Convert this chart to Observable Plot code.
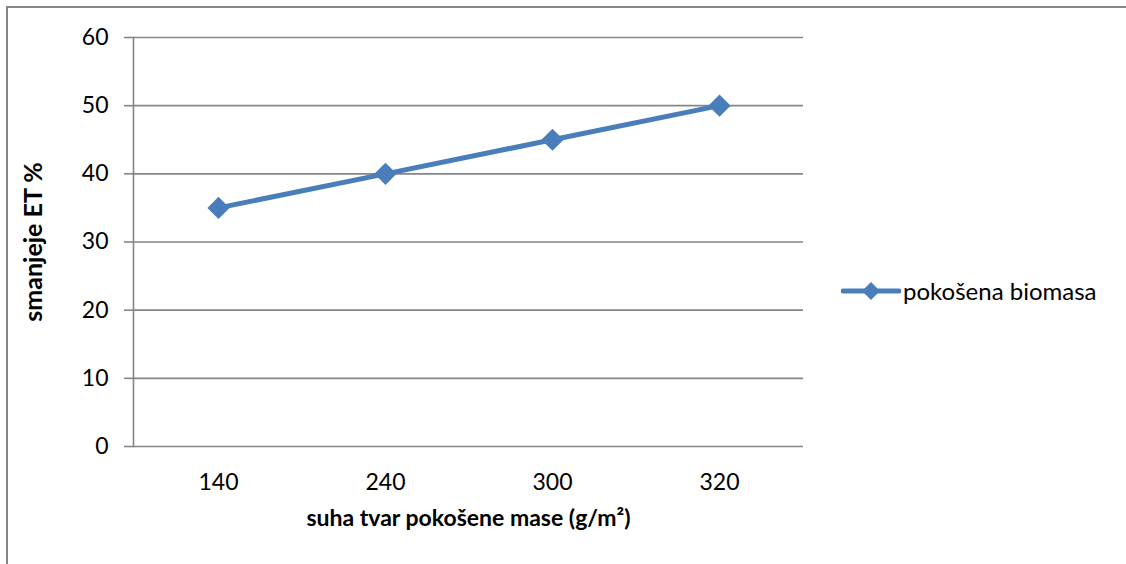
<!DOCTYPE html>
<html>
<head>
<meta charset="utf-8">
<script src="https://cdn.jsdelivr.net/npm/d3@7"></script>
<script src="https://cdn.jsdelivr.net/npm/@observablehq/plot@0.6"></script>
<style>
  html, body { margin: 0; padding: 0; background: #fff; overflow: hidden; }
  #wrap { position: relative; width: 1126px; height: 564px; font-family: Lato, "Open Sans", sans-serif; }
  #frame { position: absolute; left: 6px; top: 6px; width: 1200px; height: 700px; border-left: 2px solid #868686; border-top: 2px solid #868686; box-sizing: border-box; }
  #chart { position: absolute; left: 0; top: 0; }
  #legend { position: absolute; left: 841px; top: 276px; display: flex; align-items: center; font-size: 24px; color: #000; }
</style>
</head>
<body>
<div id="wrap">
  <div id="frame"></div>
  <div id="chart"></div>
  <div id="legend">
    <svg width="60" height="28"><line x1="2" y1="14" x2="58" y2="14" stroke="#4A7EBB" stroke-width="5" stroke-linecap="round"/><path d="M30,5 L39,14 L30,23 L21,14 Z" fill="#4A7EBB"/></svg>
    <span id="legendText" style="margin-left:2px"></span>
  </div>
</div>
<script>
const categories = ["140", "240", "300", "320"];
const values = [35, 40, 45, 50];
const yTicks = [0, 10, 20, 30, 40, 50, 60];
const seriesName = "pokošena biomasa";
const xTitle = "suha tvar pokošene mase (g/m²)";
const yTitle = "smanjeje ET %";

const data = categories.map((c, i) => ({cat: c, val: values[i]}));
document.getElementById("legendText").textContent = seriesName;

const blue = "#4A7EBB";
const grid = "#868686";
const fs = 23;

const chart = Plot.plot({
  width: 1126,
  height: 564,
  marginLeft: 133,
  marginRight: 323,
  marginTop: 37,
  marginBottom: 118,
  style: {fontFamily: "Lato, 'Open Sans', sans-serif", fontSize: fs + "px", color: "#000", background: "transparent", overflow: "visible"},
  x: {type: "point", domain: categories, padding: 0.5, label: null},
  y: {domain: [0, 60], label: null},
  marks: [
    Plot.ruleY(yTicks, {stroke: grid, strokeWidth: 1.6}),
    Plot.frame({anchor: "left", stroke: grid, strokeWidth: 1.6}),
    Plot.axisY(yTicks, {tickSize: 9, tickPadding: 16, stroke: grid, strokeWidth: 1.6, fill: "#000", fontSize: fs, label: null}),
    Plot.axisX({tickSize: 0, tickPadding: 27, fill: "#000", fontSize: fs, label: null}),
    Plot.line(data, {x: "cat", y: "val", stroke: blue, strokeWidth: 5, strokeLinejoin: "round", strokeLinecap: "round"}),
    Plot.dot(data, {x: "cat", y: "val", symbol: "diamond2", r: 10, fill: blue, stroke: null}),
    Plot.text([xTitle], {frameAnchor: "bottom", dy: 79, fontWeight: "bold", fontSize: fs, fill: "#000"}),
    Plot.text([yTitle], {frameAnchor: "left", textAnchor: "middle", dx: -100, rotate: -90, fontWeight: "bold", fontSize: 25, fill: "#000"})
  ]
});
document.getElementById("chart").appendChild(chart);
</script>
</body>
</html>
